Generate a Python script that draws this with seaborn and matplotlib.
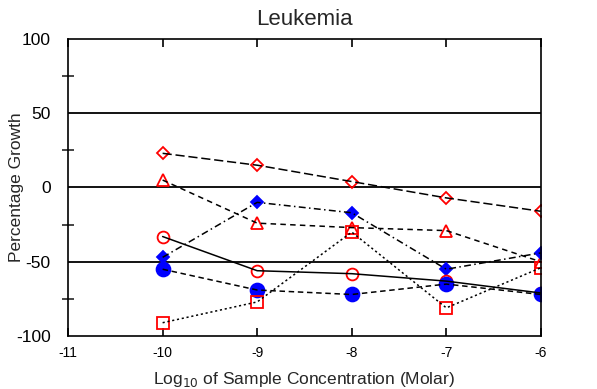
import numpy as np
import pandas as pd
import seaborn as sns
import matplotlib.pyplot as plt
from matplotlib.ticker import MultipleLocator

# log10 of sample concentration
conc = [-10, -9, -8, -7, -6]

# percentage growth per cell line
growth_diamond_open = [23, 15, 4, -7, -16]
growth_triangle = [5, -24, -27, -29, -50]
growth_diamond_fill = [-47, -10, -17, -55, -44]
growth_circle_open = [-33, -56, -58, -63, -71]
growth_circle_fill = [-55, -69, -72, -65, -72]
growth_square = [-91, -77, -30, -81, -54]

sns.set_style('white')
plt.rcParams['font.family'] = ['Liberation Sans', 'DejaVu Sans']
plt.rcParams['axes.unicode_minus'] = False

fig = plt.figure(figsize=(5.97, 3.89), dpi=100)
ax = fig.add_axes([0.114, 0.136, 0.792, 0.764])

# reference lines
for yv in [50, 0, -50]:
	ax.axhline(yv, color='black', lw=1.3, zorder=1)

series = [
	(growth_diamond_open, 'D', 'none', 'red', 6, (0, (6, 2.5))),
	(growth_triangle, '^', 'none', 'red', 8, (0, (3.6, 2.8))),
	(growth_diamond_fill, 'D', 'blue', 'blue', 6.5, (0, (4.5, 2.2, 1, 2.2))),
	(growth_circle_open, 'o', 'none', 'red', 8.5, '-'),
	(growth_circle_fill, 'o', 'blue', 'blue', 10, (0, (3.6, 2.4))),
	(growth_square, 's', 'none', 'red', 8.5, (0, (1.4, 1.8))),
]

for vals, mk, fc, ec, ms, ls in series:
	df = pd.DataFrame({'x': conc, 'y': vals})
	# markers first, lines on top of them
	sns.lineplot(data=df, x='x', y='y', ax=ax, linestyle='none', marker=mk,
		markersize=ms, markerfacecolor=fc, markeredgecolor=ec,
		markeredgewidth=1.3, zorder=2)
	sns.lineplot(data=df, x='x', y='y', ax=ax, color='black', lw=1.1,
		linestyle=ls, zorder=3)

ax.set_xlim(-11, -6)
ax.set_ylim(-100, 100)
ax.set_xticks([-11, -10, -9, -8, -7, -6])
ax.set_xticklabels(['-11', '-10', '-9', '-8', '-7', '-6'])
ax.set_yticks([-100, -50, 0, 50, 100])
ax.yaxis.set_minor_locator(MultipleLocator(25))

for sp in ax.spines.values():
	sp.set_linewidth(1.2)
	sp.set_color('black')

ax.tick_params(axis='x', which='major', direction='in', length=6, width=1.2,
	top=True, bottom=True, labelsize=10, pad=7, colors='black')
ax.tick_params(axis='y', which='major', direction='in', length=0, labelsize=12.5,
	pad=12.5, colors='black')
ax.tick_params(axis='y', which='minor', direction='inout', length=8, width=1.2,
	left=True)

ax.set_title('Leukemia', fontsize=16, pad=10)
ax.set_ylabel('Percentage Growth', fontsize=12.5)
ax.yaxis.set_label_coords(-0.093, 0.5)
ax.set_xlabel('Log$_{10}$ of Sample Concentration (Molar)', fontsize=12.5, labelpad=7)

fig.savefig('out.png', dpi=100)
